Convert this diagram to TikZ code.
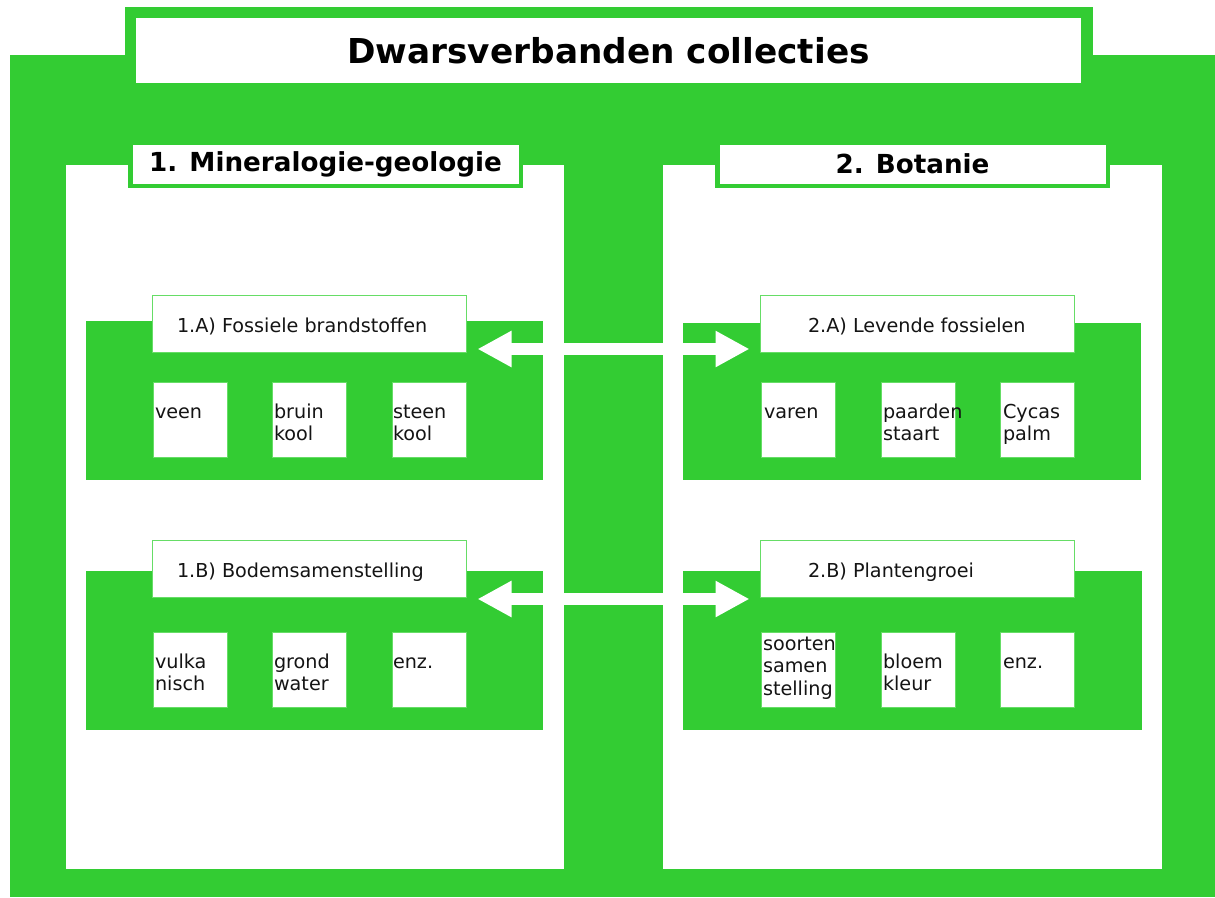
\documentclass[tikz,border=0pt]{standalone}
\usepackage{fontspec}
\setmainfont{DejaVu Sans}
\usetikzlibrary{arrows.meta}
\definecolor{leaf}{RGB}{51,204,51}
\definecolor{leafline}{RGB}{102,221,102}
\definecolor{ink}{RGB}{20,20,20}
% left-aligned stack of lines, baseline on the first line
\newcommand\stacklines[1]{\begin{tabular}[t]{@{}l@{}}#1\end{tabular}}

\begin{document}
\begin{tikzpicture}[x=1pt,y=-1pt,
  every node/.style={inner sep=0pt, outer sep=0pt, text=ink},
  bodyfont/.style={font=\fontsize{19.2}{22.5}\selectfont},
  titlebox/.style={fill=white, anchor=north west, minimum width=945pt, minimum height=65pt,
    font=\fontsize{34.3}{40}\selectfont\bfseries, text=black},
  headbox/.style={fill=white, draw=leaf, line width=4.5pt, anchor=north west,
    minimum width=390.5pt, minimum height=43.5pt,
    font=\fontsize{26.2}{30}\selectfont\bfseries, text=black},
  subbox/.style={fill=white, draw=leafline, line width=1pt, anchor=north west,
    minimum width=314pt, minimum height=57pt},
  itembox/.style={fill=white, draw=leafline, line width=0.6pt, anchor=north west,
    minimum width=74pt, minimum height=75pt},
  subtext/.style={bodyfont, anchor=base west},
  itemtext/.style={bodyfont, anchor=base west},
  linkarrow/.style={white, line width=12pt, line cap=butt,
    {Triangle[length=34pt,width=34pt]}-{Triangle[length=34pt,width=34pt]}}]

\useasboundingbox (0,0) rectangle (1215,897);

% green frame
\fill[leaf] (10,55) rectangle (1215,897);
\fill[leaf] (125,7) rectangle (1093,60);

% the two collection panels
\fill[white] (66,165) rectangle (564,869);
\fill[white] (663,165) rectangle (1162,869);

% green bands of the sub-themes
\fill[leaf] (86,321) rectangle (543,480);
\fill[leaf] (683,323) rectangle (1141,480);
\fill[leaf] (86,571) rectangle (543,730);
\fill[leaf] (683,571) rectangle (1142,730);

% title
\node[titlebox] (title) at (136,18) {Dwarsverbanden collecties};

% collection headers
\node[headbox] (geo) at (130.25,142.25) {1. Mineralogie-geologie};
\node[headbox] (bot) at (717.25,142.25) {2. Botanie};

% sub-theme headers
\node[subbox] (t1a) at (152.5,295.5) {};
\node[subbox] (t1b) at (152.5,540.5) {};
\node[subbox] (t2a) at (760.5,295.5) {};
\node[subbox] (t2b) at (760.5,540.5) {};
\node[subtext] (t1a-l) at (177,332) {1.A) Fossiele brandstoffen};
\node[subtext] (t1b-l) at (177,577) {1.B) Bodemsamenstelling};
\node[subtext] (t2a-l) at (808,332) {2.A) Levende fossielen};
\node[subtext] (t2b-l) at (808,577) {2.B) Plantengroei};

% item boxes, row 1.A
\node[itembox] (veen) at (153,382) {};
\node[itembox] (bruin) at (272,382) {};
\node[itembox] (steen) at (392,382) {};
% row 1.B
\node[itembox] (vulka) at (153,632) {};
\node[itembox] (grond) at (272,632) {};
\node[itembox] (enz1) at (392,632) {};
% row 2.A
\node[itembox] (varen) at (761,382) {};
\node[itembox] (paard) at (881,382) {};
\node[itembox] (cycas) at (1000,382) {};
% row 2.B
\node[itembox] (soort) at (761,632) {};
\node[itembox] (bloem) at (881,632) {};
\node[itembox] (enz2) at (1000,632) {};

% item labels
\node[itemtext] (veen-l) at (155,418) {veen};
\node[itemtext] (bruin-l) at (274,418) {\stacklines{bruin\\kool}};
\node[itemtext] (steen-l) at (393,418) {\stacklines{steen\\kool}};
\node[itemtext] (vulka-l) at (155,668) {\stacklines{vulka\\nisch}};
\node[itemtext] (grond-l) at (274,668) {\stacklines{grond\\water}};
\node[itemtext] (enz1-l) at (393,668) {enz.};
\node[itemtext] (varen-l) at (764,418) {varen};
\node[itemtext] (paard-l) at (883,418) {\stacklines{paarden\\staart}};
\node[itemtext] (cycas-l) at (1003,418) {\stacklines{Cycas\\palm}};
\node[itemtext] (soort-l) at (763,650) {\stacklines{soorten\\samen\\stelling}};
\node[itemtext] (bloem-l) at (883,668) {\stacklines{bloem\\kleur}};
\node[itemtext] (enz2-l) at (1003,668) {enz.};

% cross-links between the collections
\draw[linkarrow] ([xshift=11pt,yshift=-25pt]t1a.east) -- ([xshift=-11pt,yshift=-25pt]t2a.west);
\draw[linkarrow] ([xshift=11pt,yshift=-30pt]t1b.east) -- ([xshift=-11pt,yshift=-30pt]t2b.west);
\end{tikzpicture}
\end{document}
